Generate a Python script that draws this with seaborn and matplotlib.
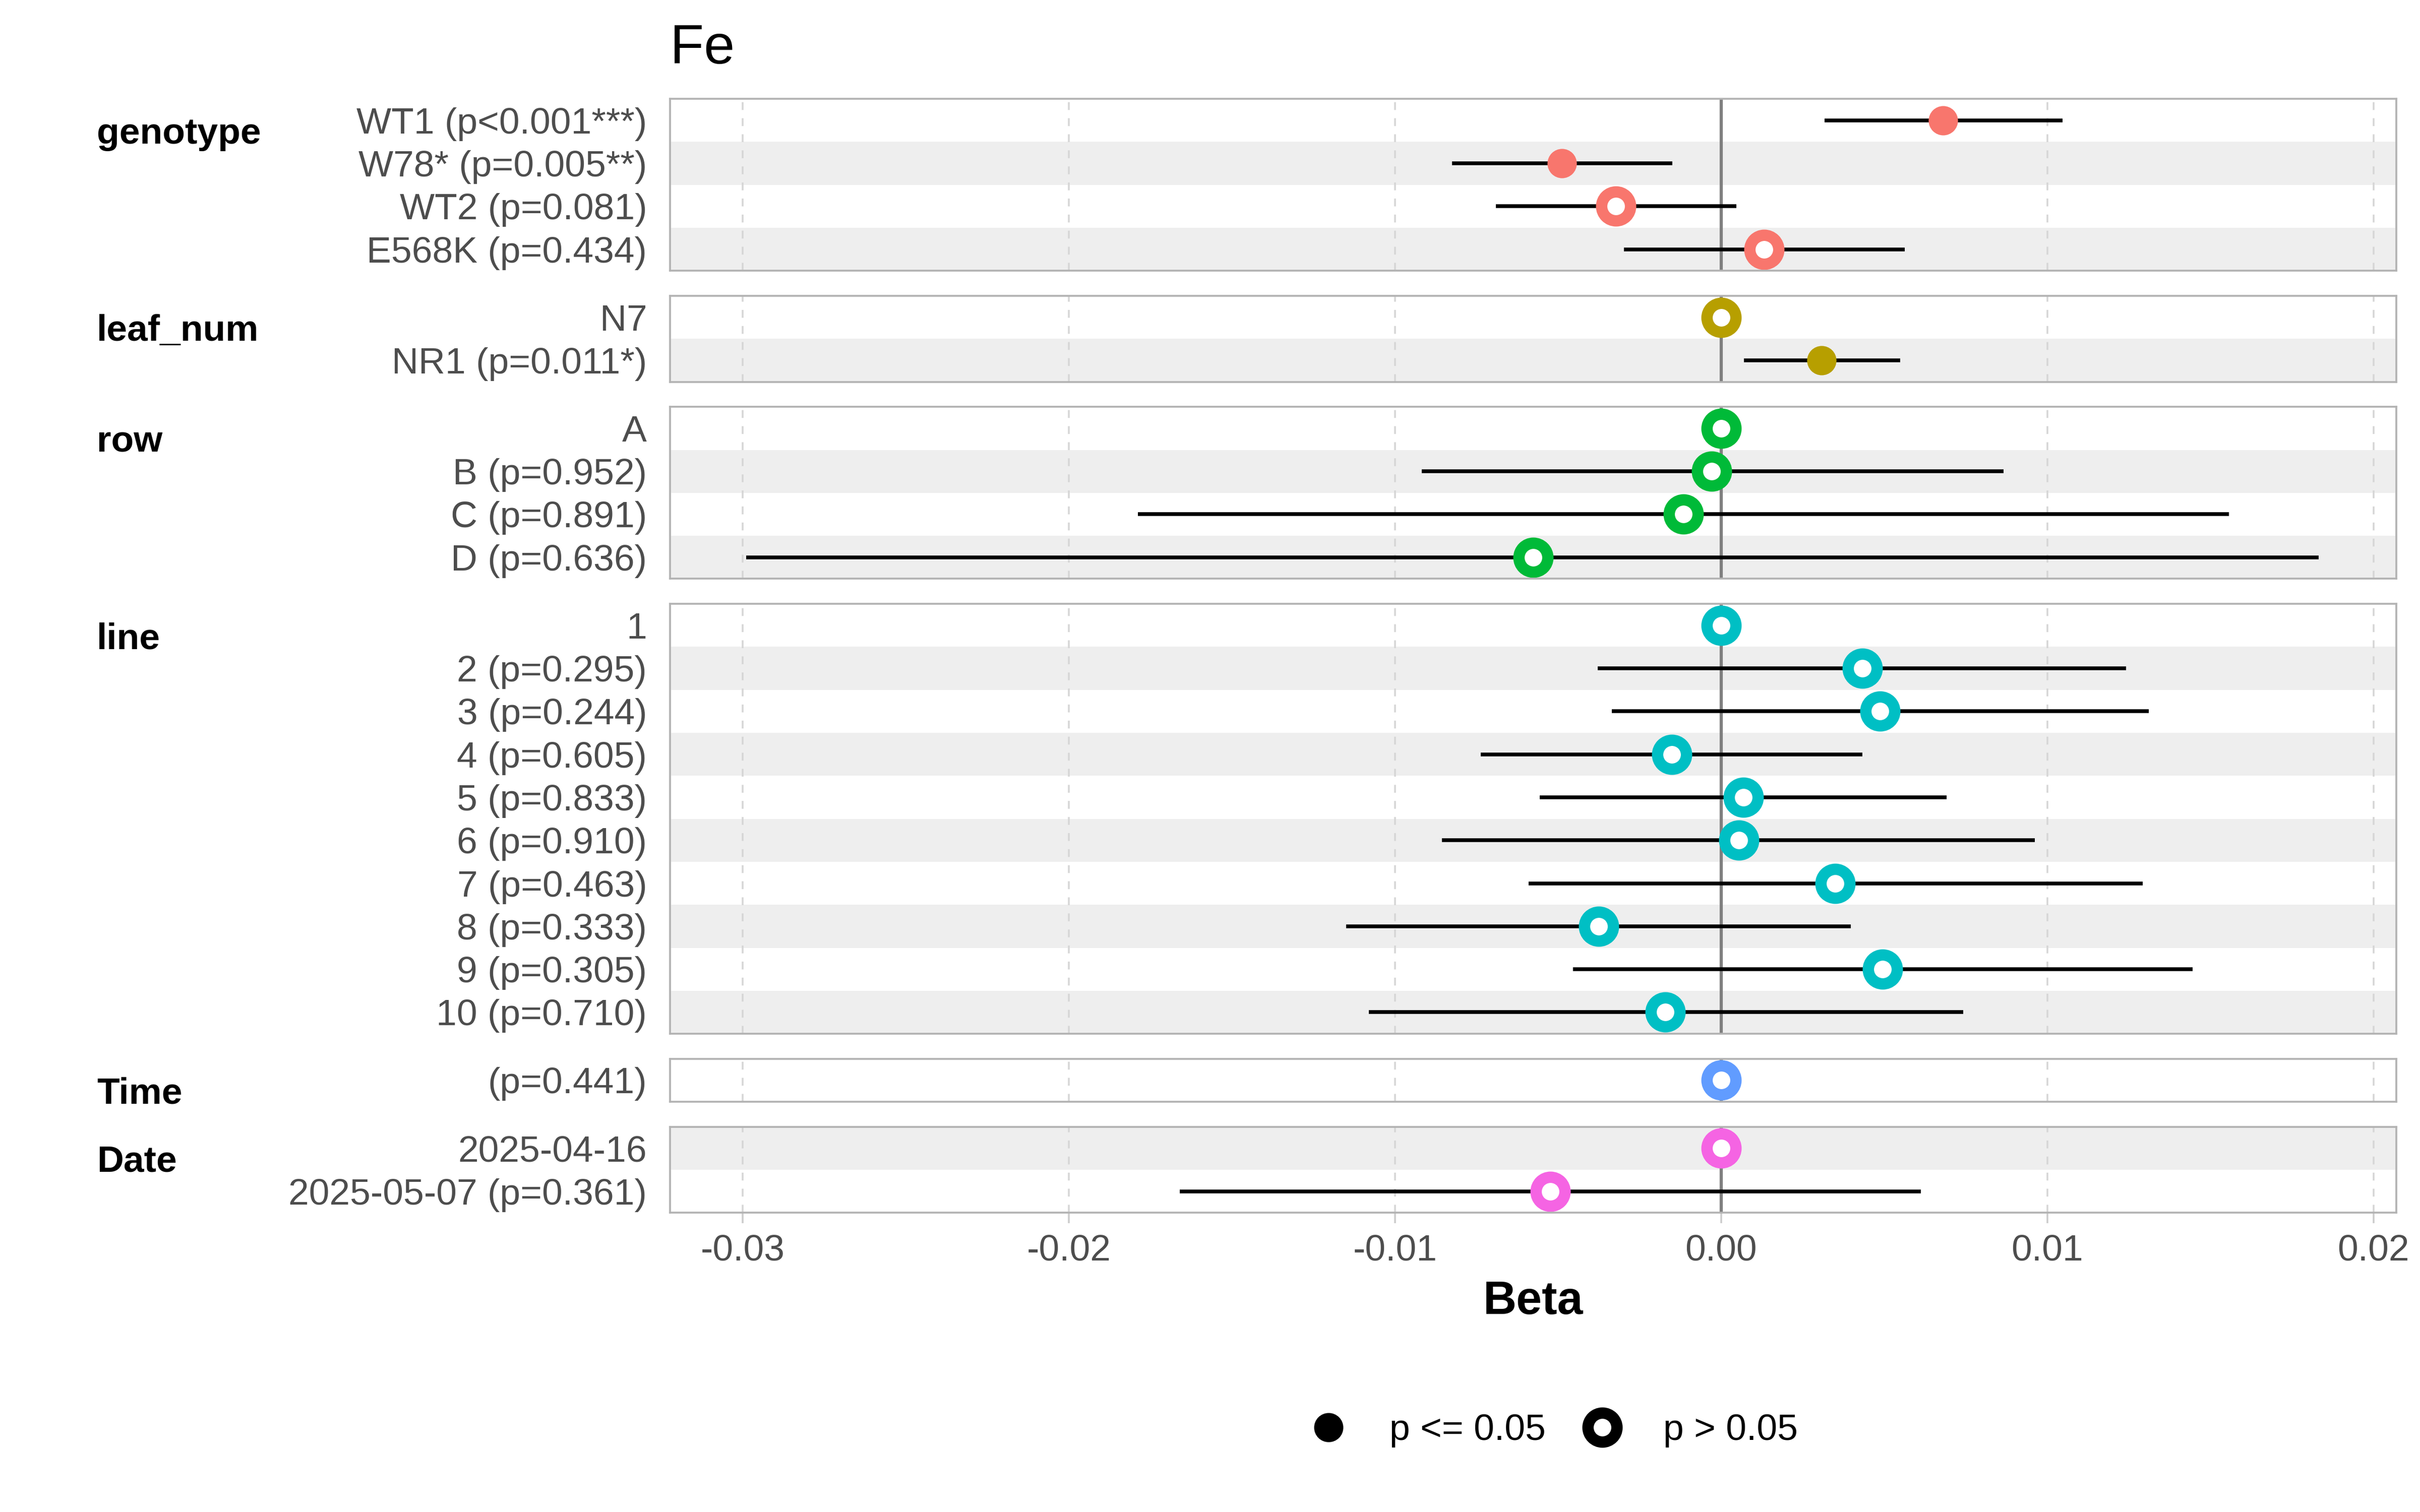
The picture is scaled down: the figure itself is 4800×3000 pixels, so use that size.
import numpy as np
import pandas as pd
import matplotlib
matplotlib.use("Agg")
import matplotlib.pyplot as plt
import seaborn as sns
from matplotlib.lines import Line2D

nan = np.nan

# ---------------- data ----------------
group_names = ["genotype", "leaf_num", "row", "line", "Time", "Date"]
group_colors = ["#F8766D", "#B79F00", "#00BA38", "#00BFC4", "#619CFF", "#F564E3"]

genotype_labels = ["WT1 (p<0.001***)", "W78* (p=0.005**)", "WT2 (p=0.081)", "E568K (p=0.434)"]
genotype_beta = [0.00680, -0.00489, -0.00323, 0.00132]
genotype_lo = [0.00317, -0.00826, -0.00691, -0.00298]
genotype_hi = [0.01046, -0.00150, 0.00046, 0.00563]
genotype_p = [0.0009, 0.005, 0.081, 0.434]

leaf_num_labels = ["N7", "NR1 (p=0.011*)"]
leaf_num_beta = [0.0, 0.00307]
leaf_num_lo = [nan, 0.00070]
leaf_num_hi = [nan, 0.00549]
leaf_num_p = [nan, 0.011]

row_labels = ["A", "B (p=0.952)", "C (p=0.891)", "D (p=0.636)"]
row_beta = [0.0, -0.00030, -0.00116, -0.00577]
row_lo = [nan, -0.00918, -0.01788, -0.02990]
row_hi = [nan, 0.00866, 0.01557, 0.01832]
row_p = [nan, 0.952, 0.891, 0.636]

line_labels = ["1", "2 (p=0.295)", "3 (p=0.244)", "4 (p=0.605)", "5 (p=0.833)",
               "6 (p=0.910)", "7 (p=0.463)", "8 (p=0.333)", "9 (p=0.305)", "10 (p=0.710)"]
line_beta = [0.0, 0.00433, 0.00487, -0.00152, 0.00068, 0.00054, 0.00349, -0.00375, 0.00495, -0.00172]
line_lo = [nan, -0.00379, -0.00335, -0.00738, -0.00557, -0.00856, -0.00591, -0.01150, -0.00455, -0.01080]
line_hi = [nan, 0.01241, 0.01311, 0.00433, 0.00691, 0.00962, 0.01293, 0.00397, 0.01446, 0.00742]
line_p = [nan, 0.295, 0.244, 0.605, 0.833, 0.910, 0.463, 0.333, 0.305, 0.710]

Time_labels = ["(p=0.441)"]
Time_beta = [0.0]
Time_lo = [nan]
Time_hi = [nan]
Time_p = [0.441]

Date_labels = ["2025-04-16", "2025-05-07 (p=0.361)"]
Date_beta = [0.0, -0.00524]
Date_lo = [nan, -0.01660]
Date_hi = [nan, 0.00612]
Date_p = [nan, 0.361]

x_ticks = [-0.03, -0.02, -0.01, 0.0, 0.01, 0.02]
x_tick_labels = ["-0.03", "-0.02", "-0.01", "0.00", "0.01", "0.02"]
legend_labels = ["p <= 0.05", "p > 0.05"]
title = "Fe"
x_title = "Beta"

groups = [
    ("genotype", genotype_labels, genotype_beta, genotype_lo, genotype_hi, genotype_p),
    ("leaf_num", leaf_num_labels, leaf_num_beta, leaf_num_lo, leaf_num_hi, leaf_num_p),
    ("row", row_labels, row_beta, row_lo, row_hi, row_p),
    ("line", line_labels, line_beta, line_lo, line_hi, line_p),
    ("Time", Time_labels, Time_beta, Time_lo, Time_hi, Time_p),
    ("Date", Date_labels, Date_beta, Date_lo, Date_hi, Date_p),
]

records = []
gidx = 0
for name, labels, beta, lo, hi, p in groups:
    for i in range(len(labels)):
        pv = p[i]
        records.append(dict(group=name, label=labels[i], pos=i, gidx=gidx,
                            beta=beta[i], lo=lo[i], hi=hi[i], p=pv,
                            sig=(not np.isnan(pv)) and pv <= 0.05))
        gidx += 1
df = pd.DataFrame(records)

# ---------------- style ----------------
sns.set_theme(style="white")
plt.rcParams['font.family'] = ['Liberation Sans', 'DejaVu Sans']

W, H = 4800, 3000
fig = plt.figure(figsize=(16, 10), dpi=300)


def fx(px):
    return px / W


def fy(py):
    return 1 - py / H


xmin, xmax = -0.03223, 0.02070
panel_left, panel_right = 1329, 4753
top0, row_h, gap = 196, 85.3, 49.7
tick_fs = 17.6

rows_before = 0
n_groups = len(group_names)
for k, name in enumerate(group_names):
    sub = df[df.group == name]
    col = group_colors[k]
    n = len(sub)
    top = top0 + rows_before * row_h + k * gap
    height = n * row_h
    ax = fig.add_axes([fx(panel_left), fy(top + height), fx(panel_right - panel_left), height / H])
    ax.set_facecolor("white")

    for _, r in sub.iterrows():
        if r.gidx % 2 == 1:
            ax.axhspan(r.pos - 0.5, r.pos + 0.5, color="#EEEEEE", lw=0, zorder=0)
    for t in x_ticks:
        ax.axvline(t, color="#D6D6D6", lw=0.85, ls=(0, (4.4, 4.6)), zorder=0.5)
    ax.axvline(0, color="#7F7F7F", lw=1.5, zorder=1)

    ci = sub.dropna(subset=["lo"])
    if len(ci):
        ax.hlines(ci.pos, ci.lo, ci.hi, color="black", lw=1.8, zorder=2)

    sig = sub[sub.sig]
    nonsig = sub[~sub.sig]
    if len(sig):
        sns.scatterplot(data=sig, x="beta", y="pos", ax=ax, color=col, s=195,
                        linewidth=0, zorder=3, legend=False)
    if len(nonsig):
        sns.scatterplot(data=nonsig, x="beta", y="pos", ax=ax, color="white",
                        edgecolor=col, linewidth=5.4, s=190, zorder=3, legend=False)

    ax.set_xlim(xmin, xmax)
    ax.set_ylim(n - 0.5, -0.5)
    ax.set_yticks(list(sub.pos))
    ax.set_yticklabels(list(sub.label))
    ax.set_xticks(x_ticks)
    ax.set_xlabel("")
    ax.set_ylabel("")
    ax.grid(False)
    for sp in ax.spines.values():
        sp.set_visible(True)
        sp.set_color("#B3B3B3")
        sp.set_linewidth(0.9)
        sp.set_zorder(4)
    ax.tick_params(axis="y", left=False, length=0, pad=11, labelsize=tick_fs, labelcolor="#4D4D4D")
    if k == n_groups - 1:
        ax.set_xticklabels(x_tick_labels)
        ax.tick_params(axis="x", bottom=True, length=5, width=0.85, color="#CCCCCC",
                       pad=5, labelsize=tick_fs, labelcolor="#4D4D4D")
    else:
        ax.tick_params(axis="x", bottom=False, labelbottom=False)

    fig.text(fx(192), fy(top + 89), name, fontsize=tick_fs, fontweight="bold",
             color="black", ha="left", va="baseline")
    rows_before += n

fig.text(fx(1329), fy(126), title, fontsize=26.4, color="black", ha="left", va="baseline")
fig.text(fx((panel_left + panel_right) / 2), fy(2607), x_title, fontsize=22, fontweight="bold",
         color="black", ha="center", va="baseline")

handles = [
    Line2D([], [], marker="o", linestyle="", color="black", markersize=13.9, markeredgewidth=0),
    Line2D([], [], marker="o", linestyle="", markerfacecolor="white", markeredgecolor="black",
           markersize=13.8, markeredgewidth=5.4),
]
fig.legend(handles, legend_labels, loc="center", bbox_to_anchor=(fx(3082), fy(2839)), ncol=2,
           frameon=False, fontsize=tick_fs, handlelength=1.0, handletextpad=1.15,
           columnspacing=1.03, labelcolor="black")

fig.savefig("out.png", dpi=300)
